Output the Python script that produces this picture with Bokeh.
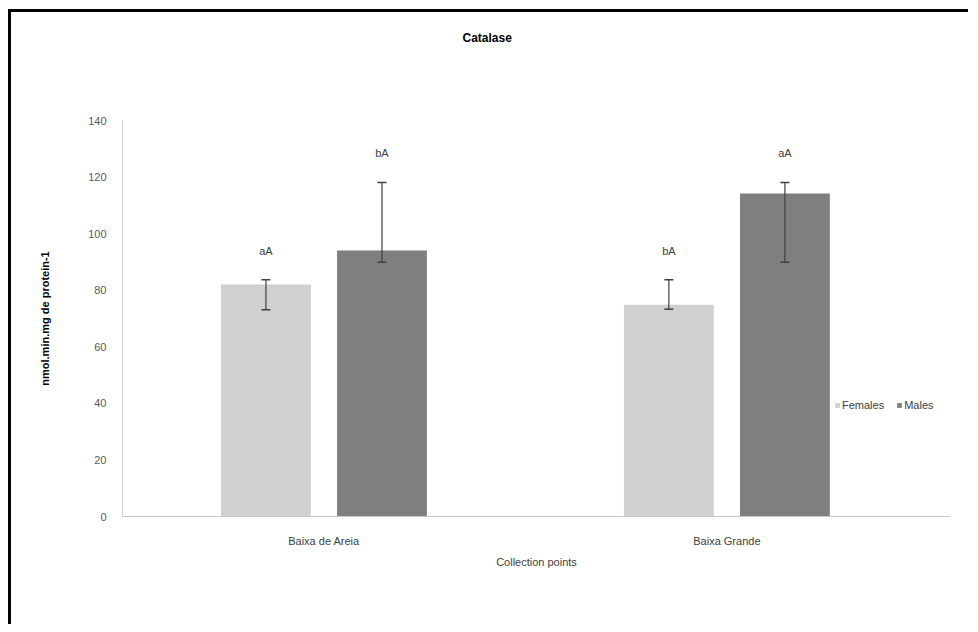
from bokeh.plotting import figure
from bokeh.models import ColumnDataSource, Whisker, TeeHead, Legend, LegendItem, Range1d, FixedTicker, Title
from bokeh.transform import dodge
from bokeh.core.properties import value
from bokeh.embed import file_html
from bokeh.resources import INLINE

categories = ["Baixa de Areia", "Baixa Grande"]
females = [82.0, 74.9]
males = [94.0, 114.2]
females_err_low = [73.1, 73.3]
females_err_high = [83.7, 83.7]
males_err_low = [89.9, 89.9]
males_err_high = [118.1, 118.1]
females_letters = ["aA", "bA"]
males_letters = ["bA", "aA"]
y_ticks = [0, 20, 40, 60, 80, 100, 120, 140]

FONT = "Liberation Sans"
F_COLOR = "#d0d0d0"
M_COLOR = "#7f7f7f"

cat_x = [i + 0.5 for i in range(len(categories))]

src = ColumnDataSource(dict(
    x=cat_x, f=females, m=males,
    fl=females_err_low, fh=females_err_high,
    ml=males_err_low, mh=males_err_high,
    flab=females_letters, mlab=males_letters,
))

p = figure(x_range=Range1d(0, 2.055), y_range=Range1d(0, 140),
           width=960, height=615, output_backend="svg", toolbar_location=None,
           min_border_left=111, min_border_right=21, min_border_top=108, min_border_bottom=111)
p.styles = {"border-top": "3px solid black", "border-left": "3px solid black",
            "margin-left": "8px", "margin-top": "9px"}
p.outline_line_color = None
p.xgrid.grid_line_color = None
p.ygrid.grid_line_color = None

p.title = None
spacer = Title(text=" ", text_font=FONT, text_font_size="12px", standoff=60)
p.add_layout(spacer, "above")
main_title = Title(text="Catalase", text_font=FONT, text_font_size="12px",
                   text_font_style="bold", text_color="#000000",
                   align="left", offset=340, standoff=0)
p.add_layout(main_title, "above")

off = 0.144
w = 0.223
rf = p.vbar(x=dodge("x", -off), top="f", width=w, source=src,
            fill_color=F_COLOR, line_color=None)
rm = p.vbar(x=dodge("x", off), top="m", width=w, source=src,
            fill_color=M_COLOR, line_color=None)

for xoff, lo, hi in [(-off, "fl", "fh"), (off, "ml", "mh")]:
    wk = Whisker(base=dodge("x", xoff), lower=lo, upper=hi, source=src,
                 line_color="#404040", line_width=1.2, level="annotation",
                 upper_head=TeeHead(size=9, line_color="#404040", line_width=1.5),
                 lower_head=TeeHead(size=9, line_color="#404040", line_width=1.5))
    p.add_layout(wk)

for xoff, hi, lab in [(-off, "fh", "flab"), (off, "mh", "mlab")]:
    p.text(x=dodge("x", xoff), y=hi, text=lab, source=src,
           text_align="center", text_baseline="middle", y_offset=-29,
           text_font=value(FONT), text_font_size="11px", text_color="#404040")

p.yaxis.ticker = FixedTicker(ticks=y_ticks)
p.yaxis.axis_label = "nmol.min.mg de protein-1"
p.yaxis.axis_label_text_font = FONT
p.yaxis.axis_label_text_font_size = "11px"
p.yaxis.axis_label_text_font_style = "bold"
p.yaxis.axis_label_text_color = "#000000"
p.yaxis.axis_label_standoff = 34
p.yaxis.major_label_text_font = FONT
p.yaxis.major_label_text_font_size = "11px"
p.yaxis.major_label_text_color = "#595959"
p.yaxis.major_label_standoff = 10
p.yaxis.major_tick_line_color = None
p.yaxis.minor_tick_line_color = None
p.yaxis.axis_line_color = "#d0d0d0"

p.xaxis.ticker = FixedTicker(ticks=cat_x)
p.xaxis.major_label_overrides = {x: c for x, c in zip(cat_x, categories)}
p.xaxis.axis_label = "Collection points"
p.xaxis.axis_label_text_font = FONT
p.xaxis.axis_label_text_font_size = "11px"
p.xaxis.axis_label_text_font_style = "normal"
p.xaxis.axis_label_text_color = "#404040"
p.xaxis.axis_label_standoff = 6
p.xaxis.major_label_text_font = FONT
p.xaxis.major_label_text_font_size = "11px"
p.xaxis.major_label_text_color = "#404040"
p.xaxis.major_label_standoff = 12
p.xaxis.major_tick_line_color = None
p.xaxis.minor_tick_line_color = None
p.xaxis.axis_line_color = "#c8c8c8"

legend = Legend(items=[LegendItem(label="Females", renderers=[rf]),
                       LegendItem(label="Males", renderers=[rm])],
                orientation="horizontal", location=(712, 105),
                glyph_width=6, glyph_height=6, label_standoff=2, spacing=12,
                label_text_font=FONT, label_text_font_size="11px", label_text_color="#404040",
                background_fill_alpha=0, border_line_color=None, padding=2, margin=0)
p.add_layout(legend)

open("out.html", "w").write(file_html(p, INLINE))
